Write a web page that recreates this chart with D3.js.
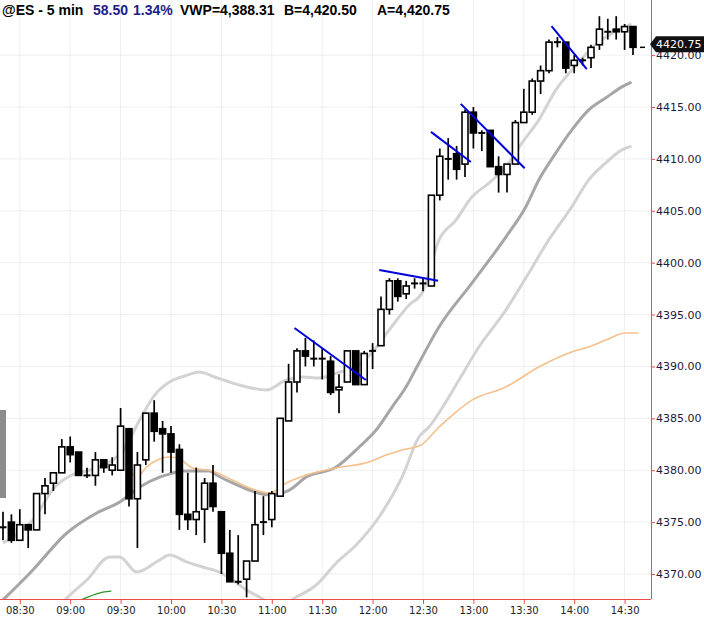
<!DOCTYPE html>
<html><head><meta charset="utf-8">
<script src="https://cdn.jsdelivr.net/npm/d3@7/dist/d3.min.js"></script>
<style>body{margin:0;background:#fff;overflow:hidden;} svg{display:block;}</style>
</head><body>
<svg id="c" width="704" height="617"></svg>
<script>
// ---------- DATA ----------
const firstBarTime = "08:20";   // 5-minute bars
const opens  = [4374.5,4375,4373.25,4374.75,4374.25,4377.75,4378.75,4379.75,4382.25,4381.75,
                4379.5,4379.5,4381,4380,4380,4384,4377.25,4381,4385.5,4384,
                4383.5,4382,4375.75,4375.25,4376.25,4378.75,4376,4372,4369.25,4369.5,
                4371.25,4375,4375.25,4377.5,4384.75,4388.5,4391.5,4390.75,4390.75,4390.5,
                4387.75,4388.5,4391.5,4388.25,4391.5,4392,4395.5,4398.25,4397,4398,
                4398,4397.75,4406.5,4410,4410.5,4409.5,4414.5,4412.5,4412.75,4409.25,
                4408.5,4409.5,4413.5,4414.5,4417.5,4418.5,4421.25,4421.25,4419,4419.5,
                4419.75,4421,4422.25,4422.5,4422.25,4422.75];
const highs  = [4376,4375.75,4376.25,4374.75,4377.75,4379.25,4379.75,4383,4383.25,4381.75,
                4380.25,4381.75,4381,4381.25,4386,4384,4381.75,4385.5,4386.75,4384.75,
                4384.25,4382.5,4379.75,4380.25,4379.25,4380.5,4376,4374.25,4373.75,4371.25,
                4378,4377.5,4378,4385,4390.25,4391.75,4392.75,4392.5,4391.75,4391,
                4389.25,4391.5,4391.5,4391.5,4392.25,4396.75,4398.5,4398.5,4398.25,4398.5,
                4398.5,4406.5,4411,4412,4411.25,4414.75,4415,4412.75,4412.75,4410.25,
                4409.5,4413.75,4416.75,4417.75,4419,4421.5,4421.75,4421.25,4420,4419.75,
                4421,4423.75,4423.5,4423.75,4423,4422.75];
const lows   = [4373.25,4373,4373.25,4372.5,4374.25,4375.75,4378,4379.75,4380.75,4379.5,
                4379.25,4378.5,4379.75,4379.5,4380,4376.5,4372.5,4380.5,4382.75,4379.75,
                4379.75,4374.25,4374.25,4373.75,4373,4376,4370,4369.25,4369,4367.75,
                4371.25,4373.75,4374.5,4377.5,4384.75,4387.5,4390,4390,4388.75,4387.25,
                4385.5,4388.5,4388.25,4388.25,4389.75,4392,4395,4396.25,4396.5,4397.5,
                4397.25,4397.75,4406,4408,4408,4408.25,4411,4410.75,4409.25,4406.75,
                4406.75,4409.5,4413.5,4414.25,4416.25,4418.25,4420.75,4418.25,4418.25,4419,
                4418.75,4420.5,4421.5,4421.5,4420.5,4420];
const closes = [4374.5,4373.25,4374.75,4374.25,4377.75,4378.5,4379.75,4382.25,4381.5,4379.5,
                4379.5,4381,4380.25,4380.5,4384.25,4377.25,4380.5,4385.5,4383.75,4383.5,
                4381.75,4375.75,4375.25,4376,4378.75,4376.5,4372,4369.25,4369.25,4371.25,
                4374.75,4375,4377.75,4385,4388.5,4391.5,4391,4390.75,4390.75,4387.5,
                4388,4391.5,4388.25,4391.25,4391.5,4395.5,4398.25,4396.75,4397.75,4398,
                4398,4406.5,4410.25,4410,4409,4414.5,4412.5,4412.5,4409.25,4408.5,
                4409.5,4413.5,4414.5,4417.5,4418.5,4421.25,4421.25,4418.75,4419.5,4419.5,
                4420.75,4422.5,4422.25,4422.25,4422.75,4420.75];

const timeTicks  = ["08:30","09:00","09:30","10:00","10:30","11:00","11:30","12:00","12:30","13:00","13:30","14:00","14:30"];
const priceTicks = [4370,4375,4380,4385,4390,4395,4400,4405,4410,4415,4420];

// indicator lines as [bar index, price]
const midBand = [[0,4367.5],[3.56,4370.39],[7.6,4373.95],[11.16,4375.88],[13.9,4376.94],[16.27,4378.38],
  [18.65,4379.34],[19.83,4379.63],[21.38,4379.92],[24.58,4379.92],[25.42,4379.54],[27.32,4378.77],
  [29.33,4378.09],[31.71,4377.61],[34.09,4378.09],[36.1,4379.34],[39.67,4380.31],[42.4,4382.24],
  [44.42,4383.87],[46.32,4386.09],[47.98,4388.02],[49.52,4390.33],[51.9,4393.8],[55.82,4398.03],
  [59.86,4402.47],[62.23,4405.36],[63.78,4407.96],[65.8,4410.56],[67.7,4412.77],[69.71,4414.7],
  [71.73,4415.86],[73.63,4416.92],[74.82,4417.4]];
const upperBand = [[0,4372.99],[3.56,4375.2],[6.18,4378.38],[7.96,4379.44],[10.33,4380.02],[12.71,4380.79],
  [14.49,4382.14],[16.27,4384.84],[18.05,4387.24],[19.83,4388.5],[21.62,4389.08],[23.4,4389.46],
  [25.18,4388.98],[28.15,4388.21],[31.35,4387.73],[33.73,4388.69],[35.63,4388.98],[37.65,4388.88],
  [39.67,4389.36],[42.4,4390.13],[44.18,4391.58],[45.96,4393.51],[48.34,4395.92],[49.88,4397.07],
  [51.9,4402.18],[53.92,4404.1],[55.82,4406.32],[57.84,4407.67],[59.86,4409.21],[61.76,4411.52],
  [63.78,4413.74],[65.8,4416.63],[67.7,4418.55],[70.9,4421.25],[74.82,4422.99]];
const lowerBand = [[0,4362],[4.4,4364.6],[7.6,4367.69],[9.98,4369.42],[12.71,4371.64],[13.9,4371.64],
  [15.91,4370.19],[18.65,4371.35],[19.83,4371.83],[21.85,4371.16],[23.75,4370.67],[25.77,4370.19],
  [27.32,4369.42],[28.98,4368.46],[30.52,4367.78],[32.66,4366.92],[34.92,4367.78],[37.29,4368.94],
  [39.67,4371.06],[42.04,4372.79],[44.77,4375.49],[47.51,4379.34],[49.52,4383.2],[50.71,4384.16],
  [52.49,4386.28],[54.28,4388.69],[56.65,4391.87],[59.86,4395.43],[62.59,4399.0],[64.96,4402.18],
  [67.7,4405.36],[69.71,4407.96],[71.73,4409.6],[73.63,4410.85],[74.82,4411.23]];
const vwapLine = [[14.85,4380.4],[15.91,4379.34],[17.1,4380.31],[18.65,4381.08],[19.83,4381.27],
  [21.02,4381.08],[22.57,4380.21],[24.94,4379.92],[27.32,4379.06],[29.33,4378.29],[31.71,4377.8],
  [33.73,4378.77],[36.1,4379.54],[39.67,4380.21],[43.59,4380.79],[45.61,4381.46],[47.51,4381.95],
  [49.76,4382.43],[51.9,4384.16],[53.09,4385.03],[55.82,4386.76],[59.86,4388.02],[63.78,4389.94],
  [67.7,4391.39],[69.71,4391.87],[71.73,4392.54],[74.11,4393.22],[75.65,4393.22]];
const greenLine = [[9,4367.4],[10.1,4367.78],[11.9,4368.25],[12.9,4368.35]];

// hand-drawn trend lines [[bar, price],[bar, price]]
const trendLines = [
  [[34.7,4393.7],[43.2,4388.7]],
  [[44.8,4399.3],[51.8,4398.25]],
  [[50.95,4412.6],[55.7,4409.7]],
  [[54.5,4415.3],[62.1,4409.1]],
  [[65.3,4422.8],[69.5,4418.65]]
];
const header = [
  {t:"@ES - 5 min", c:"#000"}, {t:"58.50", c:"#1c1c8a"}, {t:"1.34%", c:"#1c1c8a"},
  {t:"VWP=4,388.31", c:"#000"}, {t:"B=4,420.50", c:"#000"}, {t:"A=4,420.75", c:"#000"}
];
const lastPrice = 4420.75;

// ---------- CHART ----------
const svg = d3.select("#c");
const plotRight = 651, plotBottom = 599;
const x = d3.scaleLinear().domain([0, 75]).range([3, 633]);
const y = d3.scaleLinear().domain([4370, 4415]).range([574, 107]);
const toMin = s => { const [h,m] = s.split(":").map(Number); return h*60+m; };
const t0 = toMin(firstBarTime);
const tickIdx = timeTicks.map(s => (toMin(s)-t0)/5);

svg.append("defs").append("clipPath").attr("id","plot")
  .append("rect").attr("x",0).attr("y",0).attr("width",plotRight).attr("height",plotBottom);

// grid
const grid = svg.append("g");
grid.selectAll("line.v").data(tickIdx).join("line")
  .attr("x1",d=>x(d)).attr("x2",d=>x(d)).attr("y1",0).attr("y2",plotBottom)
  .attr("stroke","#efefef").attr("stroke-width",1);
grid.selectAll("line.h").data(priceTicks).join("line")
  .attr("x1",0).attr("x2",plotRight).attr("y1",d=>y(d)).attr("y2",d=>y(d))
  .attr("stroke","#efefef").attr("stroke-width",1);

const plot = svg.append("g").attr("clip-path","url(#plot)");
const line = d3.line().x(d=>x(d[0])).y(d=>y(d[1])).curve(d3.curveMonotoneX);

plot.append("path").datum(upperBand).attr("d",line).attr("fill","none").attr("stroke","#d3d3d3").attr("stroke-width",3);
plot.append("path").datum(lowerBand).attr("d",line).attr("fill","none").attr("stroke","#d3d3d3").attr("stroke-width",3);
plot.append("path").datum(midBand).attr("d",line).attr("fill","none").attr("stroke","#a6a6a6").attr("stroke-width",3);
plot.append("path").datum(vwapLine).attr("d",line).attr("fill","none").attr("stroke","#f6c08c").attr("stroke-width",1.6);
plot.append("path").datum(greenLine).attr("d",line).attr("fill","none").attr("stroke","#2a9a2a").attr("stroke-width",1.4);

// candles
const bars = opens.map((o,i)=>({i, o, h:highs[i], l:lows[i], c:closes[i]}));
const cg = plot.append("g").selectAll("g").data(bars).join("g");
cg.append("line").attr("x1",d=>x(d.i)).attr("x2",d=>x(d.i))
  .attr("y1",d=>y(d.h)).attr("y2",d=>y(d.l)).attr("stroke","#000").attr("stroke-width",1.7);
const bw = 6;
cg.filter(d=>d.o!==d.c).append("rect")
  .attr("x",d=>x(d.i)-bw/2).attr("width",bw)
  .attr("y",d=>y(Math.max(d.o,d.c))).attr("height",d=>Math.abs(y(d.o)-y(d.c)))
  .attr("fill",d=>d.c>d.o?"#fff":"#000").attr("stroke","#000").attr("stroke-width",1.6);
cg.filter(d=>d.o===d.c).append("line")
  .attr("x1",d=>x(d.i)-bw/2-0.5).attr("x2",d=>x(d.i)+bw/2+0.5)
  .attr("y1",d=>y(d.c)).attr("y2",d=>y(d.c)).attr("stroke","#000").attr("stroke-width",2);

// trend lines
plot.selectAll("line.tr").data(trendLines).join("line")
  .attr("x1",d=>x(d[0][0])).attr("y1",d=>y(d[0][1]))
  .attr("x2",d=>x(d[1][0])).attr("y2",d=>y(d[1][1]))
  .attr("stroke","#0000dd").attr("stroke-width",2);

// last price dash
plot.append("line").attr("x1",x(75)+7).attr("x2",x(75)+12)
  .attr("y1",y(lastPrice)).attr("y2",y(lastPrice)).attr("stroke","#000").attr("stroke-width",1.5);

// axes
const red = "#f04a4a";
const yAxis = d3.axisRight(y).tickValues(priceTicks).tickFormat(d3.format(".2f"))
  .tickSize(4).tickSizeOuter(0).tickPadding(1);
const ya = svg.append("g").attr("transform",`translate(${plotRight},0)`).call(yAxis);
ya.select(".domain").remove();
ya.selectAll(".tick line").attr("stroke",red);
ya.selectAll(".tick text").attr("fill","#1b1b3d").style("font-family","DejaVu Sans").style("font-size","11px");

const xAxis = d3.axisBottom(x).tickValues(tickIdx).tickFormat((d,i)=>timeTicks[i])
  .tickSize(5).tickSizeOuter(0).tickPadding(3);
const xa = svg.append("g").attr("transform",`translate(0,${plotBottom})`).call(xAxis);
xa.select(".domain").remove();
xa.selectAll(".tick line").attr("stroke",red);
xa.selectAll(".tick text").attr("fill","#222").style("font-family","DejaVu Sans").style("font-size","10px");

svg.append("line").attr("x1",plotRight+0.5).attr("x2",plotRight+0.5).attr("y1",0).attr("y2",plotBottom)
  .attr("stroke",red).attr("stroke-width",1);
svg.append("line").attr("x1",0).attr("x2",plotRight).attr("y1",plotBottom+0.5).attr("y2",plotBottom+0.5)
  .attr("stroke",red).attr("stroke-width",1);

// last price tag
const ly = y(lastPrice) - 3;
svg.append("path")
  .attr("d",`M${plotRight-1},${ly} L${plotRight+5},${ly-8} H704 V${ly+8} H${plotRight+5} Z`)
  .attr("fill","#111");
svg.append("text").attr("x",plotRight+5).attr("y",ly+4).text(d3.format(".2f")(lastPrice))
  .attr("fill","#fff").style("font-family","DejaVu Sans").style("font-size","11px");

// left gray tab
svg.append("rect").attr("x",0).attr("y",410).attr("width",6).attr("height",88).attr("fill","#8c8c8c");

// header
const hx = [2, 93, 133, 180, 284, 377];
svg.append("g").selectAll("text").data(header).join("text")
  .attr("x",(d,i)=>hx[i]).attr("y",15).text(d=>d.t).attr("fill",d=>d.c)
  .style("font-family","Liberation Sans, Arial, sans-serif").style("font-weight","bold").style("font-size","14px");
</script>
</body></html>
